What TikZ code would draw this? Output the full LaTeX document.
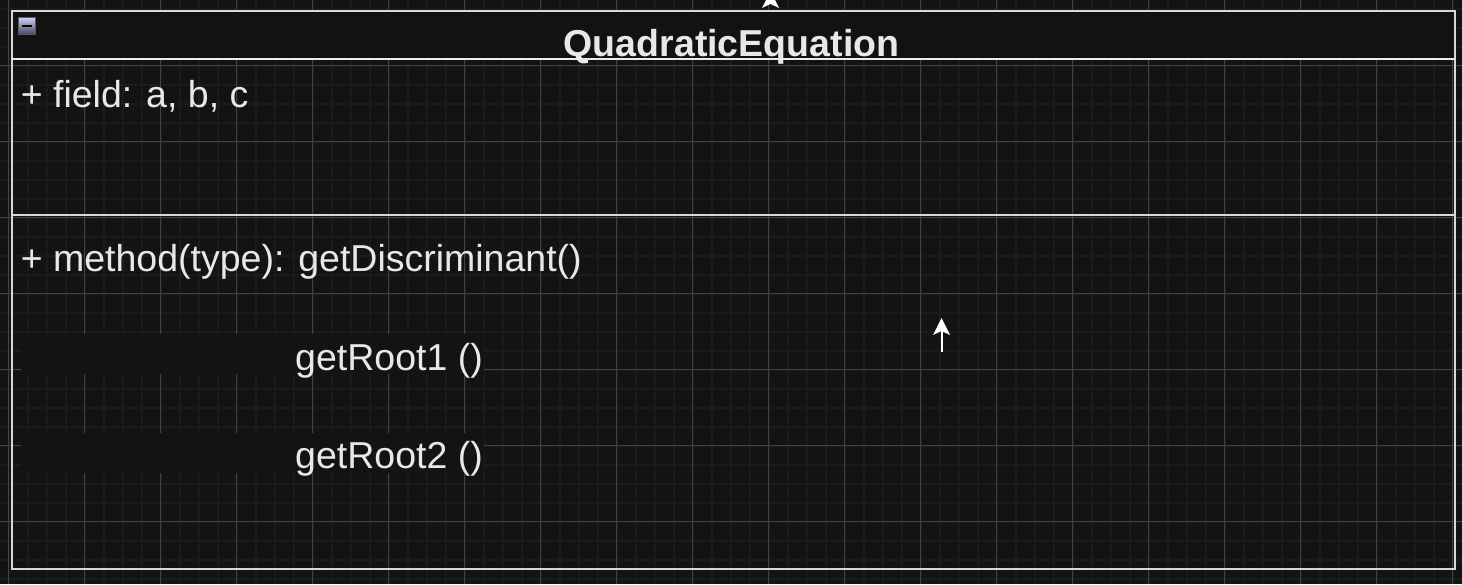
\documentclass[tikz,border=0pt]{standalone}
\usepackage{fontspec}
\setmainfont{Liberation Sans}
\usetikzlibrary{calc}
\definecolor{bgc}{HTML}{131313}
\definecolor{minorc}{HTML}{1B1B1B}
\definecolor{majorc}{HTML}{424242}
\definecolor{hdrc}{HTML}{121212}
\definecolor{linec}{HTML}{D8D8D8}
\definecolor{txtc}{HTML}{E8E8E8}
\tikzset{
  umltext/.style={anchor=base west, inner sep=0pt, text=txtc, font=\fontsize{37.5}{45}\selectfont},
  umltitle/.style={anchor=base, inner sep=0pt, text=txtc, font=\fontsize{37.5}{45}\selectfont\bfseries},
  boxline/.style={draw=linec, line width=2pt},
  arrowhd/.style={fill=white, draw=none},
  shaft/.style={draw=white, line width=2pt},
  mask/.style={fill=bgc, draw=none}
}
\begin{document}
\begin{tikzpicture}[x=1pt,y=-1pt]
\useasboundingbox (0,0) rectangle (1462,584);
\fill[bgc] (0,0) rectangle (1462,584);
\begin{scope}
\clip (0,0) rectangle (1462,584);
\foreach \i in {0,...,78} {\draw[minorc, line width=2.2pt] ({-10.3+19*\i},0) -- ({-10.3+19*\i},584);}
\foreach \i in {0,...,31} {\draw[minorc, line width=2.2pt] (0,{-10.3+19*\i}) -- (1462,{-10.3+19*\i});}
\foreach \k in {0,...,19} {\draw[majorc, line width=0.9pt] ({8.7+76*\k},0) -- ({8.7+76*\k},584);}
\foreach \k in {1,...,7} {\draw[majorc, line width=0.9pt] (0,{-10.3+76*\k}) -- (1462,{-10.3+76*\k});}
\end{scope}
% top arrow (behind header)
\coordinate (ta) at (770.5,-9);
\fill[arrowhd] (ta) -- ++(8.5,17) -- ++(-8.5,-4) -- ++(-8.5,4) -- cycle;
% header fill
\fill[hdrc] (10.7,9.5) rectangle (1454,59);
% masks behind getRoot lines
\fill[mask] (20.5,334) rectangle (484,374);
\fill[mask] (20.5,433) rectangle (484,473);
% box
\node[draw=linec, line width=2pt, minimum width=1443.3pt, minimum height=558.5pt, inner sep=0pt, anchor=north west] (box) at (10.7,9.5) {};
\coordinate (h1) at (10.7,59);
\coordinate (h2) at (1454,59);
\coordinate (d1) at (10.7,215);
\coordinate (d2) at (1454,215);
\draw[draw=white!92!black, line width=2.5pt] (h1) -- (h2);
\draw[boxline] (d1) -- (d2);
% collapse icon
\shade[top color=white!85!blue!90!gray, bottom color=gray!80!blue!70!black, draw=black!65] (18.5,17.5) rectangle (35.5,34);
\draw[black, line width=2pt] (22,25.8) -- (32,25.8);
% texts
\node[umltitle] (title) at (731.5,56) {QuadraticEquation};
\node[umltext] (field) at (20.6,107) {+ field: a, b, c};
\node[umltext] (meth) at (20.6,271) {+ method(type): getDiscriminant()};
\node[umltext] (r1) at (295,370) {getRoot1 ()};
\node[umltext] (r2) at (295,468) {getRoot2 ()};
% arrow in body
\coordinate (at) at (941.5,318);
\coordinate (ab) at (941.5,352);
\draw[shaft] (ab) -- ($(at)+(0,12)$);
\fill[arrowhd] (at) -- ++(8.5,17) -- ++(-8.5,-4) -- ++(-8.5,4) -- cycle;
\end{tikzpicture}
\end{document}
